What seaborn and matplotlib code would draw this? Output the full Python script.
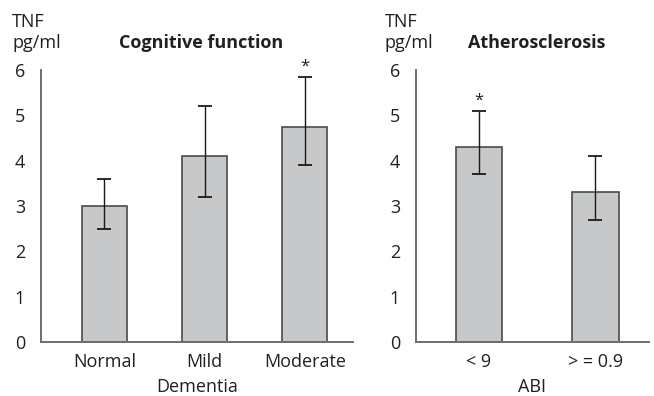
import numpy as np
import pandas as pd
import matplotlib
matplotlib.use("Agg")
import matplotlib.pyplot as plt
import seaborn as sns

sns.set_style("white")
plt.rcParams["font.family"] = ["Open Sans", "DejaVu Sans"]

# TNF by cognitive function group
cog_groups = ["Normal", "Mild", "Moderate"]
cog_mean = [3.0, 4.1, 4.75]
cog_low = [2.5, 3.2, 3.9]
cog_high = [3.6, 5.2, 5.85]
cog_sig = [False, False, True]

# TNF by ankle-brachial index
abi_groups = ["<9", ">=0.9"]
abi_labels = ["< 9", "> = 0.9"]
abi_mean = [4.3, 3.3]
abi_low = [3.7, 2.7]
abi_high = [5.1, 4.1]
abi_sig = [True, False]

yticks = [0, 1, 2, 3, 4, 5, 6]

BAR = "#c7c8ca"
EDGE = "#4a4a4a"
AXC = "#6e6e6e"
TXT = "#231f20"
FS = 13

fig = plt.figure(figsize=(6.54, 3.96), dpi=100)
ax1 = fig.add_axes([41 / 654, 1 - 342 / 396, 312 / 654, 272 / 396])
ax2 = fig.add_axes([416 / 654, 1 - 342 / 396, 233 / 654, 272 / 396])


def panel(ax, groups, labels, mean, low, high, sig, width, xlim, xlabel):
    df = pd.DataFrame({"group": groups, "tnf": mean})
    sns.barplot(data=df, x="group", y="tnf", color=BAR, edgecolor=EDGE,
                linewidth=1.2, width=width, saturation=1, ax=ax, errorbar=None)
    for p in ax.patches:
        p.set_facecolor(BAR)
    m = np.asarray(mean)
    yerr = [m - np.asarray(low), np.asarray(high) - m]
    pos = np.arange(len(groups))
    ax.errorbar(pos, m, yerr=yerr, fmt="none", ecolor="#1a1a1a",
                elinewidth=1.0, capsize=5, capthick=1.3, zorder=5)
    for x, h, s in zip(pos, high, sig):
        if s:
            ax.text(x, h + 0.05, "*", ha="center", va="bottom",
                    fontsize=FS - 1, color=TXT)
    ax.set_xlim(*xlim)
    ax.set_ylim(0, 6)
    ax.set_yticks(yticks)
    ax.set_yticklabels([str(v) for v in yticks], fontsize=FS, color=TXT)
    ax.set_xticks(pos)
    ax.set_xticklabels(labels, fontsize=FS, color=TXT)
    bounds = [xlim[0]] + [i + 0.5 for i in range(len(groups) - 1)] + [xlim[1]]
    ax.set_xticks(bounds, minor=True)
    ax.tick_params(axis="x", which="major", length=0, pad=8)
    ax.tick_params(axis="x", which="minor", length=7.5, width=1.2,
                   color=AXC, direction="out")
    ax.tick_params(axis="y", length=8.5, width=1.2, color=AXC,
                   direction="out", pad=3)
    ax.set_xlabel(xlabel, fontsize=FS, color=TXT, labelpad=5)
    ax.set_ylabel("")
    for s in ["top", "right"]:
        ax.spines[s].set_visible(False)
    for s in ["left", "bottom"]:
        ax.spines[s].set_color(AXC)
        ax.spines[s].set_linewidth(1.4)
    ax.set_facecolor("white")


panel(ax1, cog_groups, cog_groups, cog_mean, cog_low, cog_high, cog_sig,
      0.45, (-0.633, 2.48), "Dementia")
panel(ax2, abi_groups, abi_labels, abi_mean, abi_low, abi_high, abi_sig,
      0.40, (-0.54, 1.46), "ABI")

# unit labels and panel titles
for x0 in (12, 385):
    fig.text(x0 / 654, 1 - 22 / 396, "TNF", fontsize=FS, color=TXT,
             ha="left", va="center")
    fig.text(x0 / 654, 1 - 43 / 396, "pg/ml", fontsize=FS, color=TXT,
             ha="left", va="center")
fig.text(201 / 654, 1 - 43 / 396, "Cognitive function", fontsize=FS,
         fontweight="bold", color=TXT, ha="center", va="center")
fig.text(537 / 654, 1 - 43 / 396, "Atherosclerosis", fontsize=FS,
         fontweight="bold", color=TXT, ha="center", va="center")

fig.savefig("out.png", dpi=100, facecolor="white")
